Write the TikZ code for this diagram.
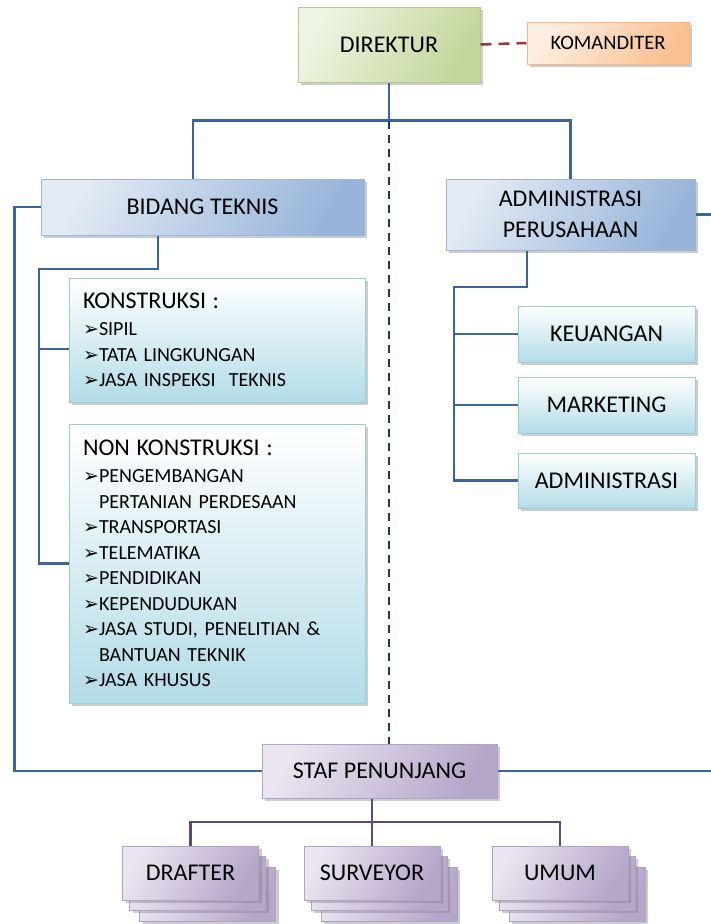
\documentclass[tikz,border=0pt]{standalone}
\usepackage{fontspec}
\setmainfont{Carlito}
\newfontfamily\Dng{DejaVu Sans}
\usetikzlibrary{positioning,shadows}
\newcommand{\Itm}{\makebox[16pt][l]{\Dng\fontsize{19}{19}\selectfont ➢}}
\newcommand{\Ind}{\hspace*{16pt}}

\begin{document}
\begin{tikzpicture}[x=1pt,y=-1pt,
  box/.style={draw, line width=1pt, inner sep=2pt, align=center,
    font=\fontsize{24}{31}\selectfont,
    drop shadow={shadow xshift=3pt, shadow yshift=-3pt, opacity=.4}},
  gbox/.style={box, draw=grnB, left color=grnL, right color=grnD, shading angle=60},
  obox/.style={box, draw=orgB, left color=orgL, right color=orgD, shading angle=60,
    font=\fontsize{20.5}{25}\selectfont},
  bbox/.style={box, draw=bluB, left color=bluL, right color=bluD, shading angle=60},
  abox/.style={box, draw=aquB, top color=white, bottom color=aquD},
  lbox/.style={abox, align=left, text width=268pt, inner xsep=14pt,
    font=\fontsize{20}{25.5}\selectfont},
  pbox/.style={box, draw=purB, left color=purL, right color=purD, shading angle=60},
  bline/.style={draw=linB, line width=2.5pt},
  pline/.style={draw=linP, line width=2.5pt},
  dline/.style={draw=linN, line width=2.5pt, dash pattern=on 8pt off 6pt}]
\definecolor{grnL}{HTML}{EEF4E2}
\definecolor{grnD}{HTML}{C3D69B}
\definecolor{grnB}{HTML}{B5CB8A}
\definecolor{orgL}{HTML}{FDEEE2}
\definecolor{orgD}{HTML}{FAC090}
\definecolor{orgB}{HTML}{F6B582}
\definecolor{bluL}{HTML}{E2EAF4}
\definecolor{bluD}{HTML}{98B5D9}
\definecolor{bluB}{HTML}{9DB8DA}
\definecolor{aquD}{HTML}{B3DCE7}
\definecolor{aquB}{HTML}{96CEDE}
\definecolor{purL}{HTML}{EAE5F0}
\definecolor{purD}{HTML}{B6A6CA}
\definecolor{purB}{HTML}{B3A2C7}
\definecolor{linB}{HTML}{3C6699}
\definecolor{linP}{HTML}{5F497A}
\definecolor{linN}{HTML}{1F3A60}
\definecolor{linR}{HTML}{953735}
\useasboundingbox (0,0) rectangle (710,924);
% top
\node[gbox, minimum width=182pt, minimum height=75pt] (dir) at (389,44.5) {DIREKTUR};
\node[obox, minimum width=162pt, minimum height=42pt] (kom) at (608,43) {KOMANDITER};
% two divisions
\node[bbox, minimum width=323pt, minimum height=56pt] (bid) at (202.5,207) {BIDANG TEKNIS};
\node[bbox, minimum width=249pt, minimum height=71pt] (adm) at (570.5,214.5)
  {ADMINISTRASI\\PERUSAHAAN};
% technical fields
\node[lbox, minimum height=124pt] (kons) at (217,340)
  {{\fontsize{24}{28}\selectfont KONSTRUKSI :}\\[1.5pt]
   \Itm SIPIL\\
   \Itm TATA LINGKUNGAN\\
   \Itm JASA INSPEKSI\ \ TEKNIS};
\node[lbox, minimum height=279pt] (non) at (217,563.5)
  {{\fontsize{24}{28}\selectfont NON KONSTRUKSI :}\\[1.5pt]
   \Itm PENGEMBANGAN\\
   \Ind PERTANIAN PERDESAAN\\
   \Itm TRANSPORTASI\\
   \Itm TELEMATIKA\\
   \Itm PENDIDIKAN\\
   \Itm KEPENDUDUKAN\\
   \Itm JASA STUDI, PENELITIAN \&\\
   \Ind BANTUAN TEKNIK\\
   \Itm JASA KHUSUS};
% administration units
\node[abox, minimum width=177pt, minimum height=56pt] (keu) at (606.5,334) {KEUANGAN};
\node[abox, minimum width=177pt, minimum height=56pt] (mkt) at (606.5,405) {MARKETING};
\node[abox, minimum width=177pt, minimum height=55pt] (admi) at (606.5,480.5) {ADMINISTRASI};
% support staff
\node[pbox, minimum width=235pt, minimum height=54pt] (staf) at (379.5,771) {STAF PENUNJANG};
\foreach \x/\n/\lab in {190.5/dra/DRAFTER, 372/sur/SURVEYOR, 560/umu/UMUM} {
  \node[pbox, minimum width=136pt, minimum height=54pt] (\n3) at (\x+17,894) {};
  \node[pbox, minimum width=136pt, minimum height=54pt] (\n2) at (\x+7,883) {};
  \node[pbox, minimum width=136pt, minimum height=54pt] (\n) at (\x,873) {\lab};
}
% connectors
\draw[draw=linR, line width=2.5pt, dash pattern=on 11pt off 7pt] (dir.east) -- (kom.west);
\draw[bline] (dir.south) -- ++(0,38) coordinate (hub);
\draw[bline] (hub) -| ([xshift=-9.5pt]bid.north);
\draw[bline] (hub) -| (adm.north);
\draw[dline] (hub) -- (hub |- staf.north);
\draw[bline] (bid.west) -- ++(-26,0) |- (staf.west);
\draw[bline] (adm.east) -- ++(16,0);
\draw[bline] (staf.east) -- ++(214,0);
\coordinate (tk) at (39,269);
\draw[bline] ([xshift=-44.5pt]bid.south) |- (tk) -- (tk |- non.west) -- (non.west);
\draw[bline] ([yshift=-9pt]kons.west) -- ++(-30,0);
\coordinate (ak) at (454,287);
\draw[bline] ([xshift=-43.5pt]adm.south) |- (ak) -- (ak |- admi.west) -- (admi.west);
\draw[bline] (ak |- keu.west) -- (keu.west);
\draw[bline] (ak |- mkt.west) -- (mkt.west);
\coordinate (pb) at (372,822);
\draw[pline] (staf.south -| pb) -- (sur.north);
\draw[pline] (dra.north) |- (pb) -| (umu.north);
\end{tikzpicture}
\end{document}
